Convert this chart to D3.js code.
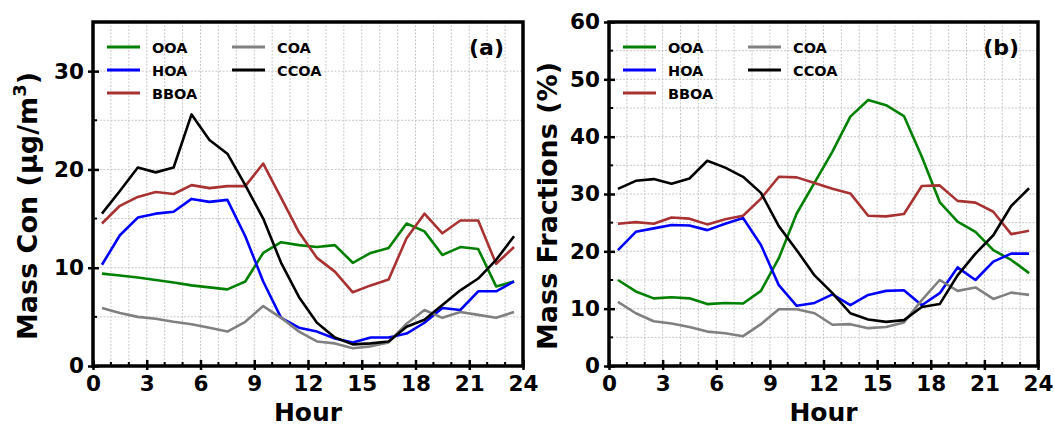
<!DOCTYPE html>
<html>
<head>
<meta charset="utf-8">
<script src="https://cdn.jsdelivr.net/npm/d3@7"></script>
<style>
  html, body { margin: 0; padding: 0; background: #fff; }
  svg { display: block; font-family: "DejaVu Sans", sans-serif; font-weight: bold; }
</style>
</head>
<body>
<svg id="chart" width="1054" height="426"></svg>
<script>
// Diurnal cycles of organic aerosol factors (hour of day, centred on each half hour)
const hours = d3.range(24).map(h => h + 0.5);
const seriesNames = ["OOA", "HOA", "BBOA", "COA", "CCOA"];
const seriesColors = ["#008000", "#0000ff", "#a83232", "#808080", "#000000"];

// (a) mass concentrations, µg/m³
const massOOA  = [9.4, 9.2, 9.0, 8.75, 8.5, 8.2, 8.0, 7.8, 8.6, 11.5, 12.6, 12.3, 12.1, 12.3, 10.5, 11.5, 12.0, 14.5, 13.7, 11.3, 12.1, 11.9, 8.1, 8.6];
const massHOA  = [10.3, 13.3, 15.1, 15.5, 15.7, 17.0, 16.7, 16.9, 13.2, 8.6, 4.9, 3.9, 3.5, 2.8, 2.4, 2.9, 2.9, 3.3, 4.4, 5.9, 5.7, 7.6, 7.6, 8.6];
const massBBOA = [14.5, 16.3, 17.2, 17.7, 17.5, 18.4, 18.1, 18.3, 18.3, 20.6, 17.1, 13.6, 11.0, 9.6, 7.5, 8.2, 8.8, 13.0, 15.5, 13.5, 14.8, 14.8, 10.4, 12.1];
const massCOA  = [5.9, 5.4, 5.0, 4.8, 4.5, 4.25, 3.9, 3.5, 4.5, 6.1, 4.9, 3.5, 2.5, 2.3, 1.8, 2.0, 2.4, 4.3, 5.7, 4.9, 5.5, 5.2, 4.9, 5.5];
const massCCOA = [15.5, 17.8, 20.2, 19.7, 20.2, 25.6, 23.0, 21.6, 18.4, 15.0, 10.5, 7.0, 4.4, 2.9, 2.2, 2.3, 2.5, 4.0, 4.7, 6.2, 7.7, 8.9, 10.8, 13.2];

// (b) mass fractions, %
const fracOOA  = [15.0, 13.0, 11.8, 12.0, 11.8, 10.8, 11.0, 10.9, 13.1, 18.8, 26.6, 32.0, 37.4, 43.5, 46.4, 45.5, 43.6, 36.5, 28.6, 25.2, 23.4, 20.2, 18.5, 16.2];
const fracHOA  = [20.2, 23.4, 24.0, 24.6, 24.5, 23.7, 24.8, 25.8, 21.1, 14.1, 10.5, 11.0, 12.5, 10.6, 12.4, 13.1, 13.2, 10.6, 12.7, 17.2, 15.0, 18.2, 19.6, 19.6];
const fracBBOA = [24.8, 25.1, 24.8, 25.9, 25.7, 24.7, 25.6, 26.2, 29.2, 33.0, 32.9, 31.9, 30.9, 30.1, 26.2, 26.1, 26.5, 31.4, 31.5, 28.8, 28.5, 26.9, 23.0, 23.6];
const fracCOA  = [11.2, 9.2, 7.8, 7.4, 6.8, 6.0, 5.7, 5.2, 7.3, 9.9, 9.9, 9.2, 7.2, 7.3, 6.6, 6.8, 7.6, 11.5, 15.0, 13.1, 13.7, 11.7, 12.8, 12.4];
const fracCCOA = [30.9, 32.3, 32.6, 31.8, 32.7, 35.8, 34.6, 33.0, 30.2, 24.4, 20.2, 15.8, 12.7, 9.2, 8.1, 7.7, 8.0, 10.3, 10.8, 15.8, 19.6, 22.8, 27.9, 31.0];

// Axis ticks
const hourTicks = d3.range(0, 25, 3);
const hourMinor = d3.range(0, 25, 1);
const massTicks = [0, 10, 20, 30];
const fracTicks = [0, 10, 20, 30, 40, 50, 60];

const svg = d3.select("#chart");

function drawPanel(opt) {
  const { left, right, top, bottom, yMax, yTicks, yMinorStep, series, tag, yLabelParts, yLabelX } = opt;
  const x = d3.scaleLinear().domain([0, 24]).range([left, right]);
  const y = d3.scaleLinear().domain([0, yMax]).range([bottom, top]);
  const g = svg.append("g");

  // light dotted grid: every hour and every minor y step
  const grid = g.append("g").attr("stroke", "#c8c8c8").attr("stroke-width", 1).attr("stroke-dasharray", "2,1.5");
  hourMinor.filter(h => h > 0 && h < 24).forEach(h => {
    grid.append("line").attr("x1", x(h)).attr("x2", x(h)).attr("y1", top).attr("y2", bottom);
  });
  d3.range(yMinorStep, yMax, yMinorStep).forEach(v => {
    grid.append("line").attr("x1", left).attr("x2", right).attr("y1", y(v)).attr("y2", y(v));
  });

  // data lines
  const line = d3.line().x((d, i) => x(hours[i])).y(d => y(d));
  series.forEach((vals, i) => {
    g.append("path").datum(vals).attr("d", line)
      .attr("fill", "none").attr("stroke", seriesColors[i]).attr("stroke-width", 2.6)
      .attr("stroke-linejoin", "round");
  });

  // axes with inward ticks
  const xAxis = d3.axisBottom(x).tickValues(hourTicks).tickSize(-6).tickPadding(10).tickFormat(d3.format("d"));
  const gx = g.append("g").attr("transform", `translate(0,${bottom})`).call(xAxis);
  const yAxis = d3.axisLeft(y).tickValues(yTicks).tickSize(-6).tickPadding(9).tickFormat(d3.format("d"));
  const gy = g.append("g").attr("transform", `translate(${left},0)`).call(yAxis);
  [gx, gy].forEach(a => {
    a.select(".domain").remove();
    a.selectAll(".tick line").attr("stroke", "#000").attr("stroke-width", 2.5);
    a.selectAll(".tick text").attr("fill", "#000").attr("font-size", 21.5)
      .attr("font-family", "DejaVu Sans").attr("font-weight", "bold");
  });
  // short outward stubs on major ticks
  gx.selectAll(".tick").append("line").attr("y1", 0).attr("y2", 4).attr("stroke", "#000").attr("stroke-width", 2.5);
  gy.selectAll(".tick").append("line").attr("x1", 0).attr("x2", -5).attr("stroke", "#000").attr("stroke-width", 2.5);
  gx.selectAll(".tick text").attr("dy", "0.71em");

  // minor ticks
  const minor = g.append("g").attr("stroke", "#000").attr("stroke-width", 2);
  hourMinor.filter(h => h % 3 !== 0).forEach(h => {
    minor.append("line").attr("x1", x(h)).attr("x2", x(h)).attr("y1", bottom).attr("y2", bottom - 4);
  });
  d3.range(yMinorStep, yMax, yMinorStep).filter(v => !yTicks.includes(v)).forEach(v => {
    minor.append("line").attr("x1", left).attr("x2", left + 4).attr("y1", y(v)).attr("y2", y(v));
  });

  // frame
  g.append("rect").attr("x", left).attr("y", top).attr("width", right - left).attr("height", bottom - top)
    .attr("fill", "none").attr("stroke", "#000").attr("stroke-width", 3.5);

  // legend, two columns
  const legendCols = [[0, 1, 2], [3, 4]];
  legendCols.forEach((col, ci) => {
    col.forEach((si, ri) => {
      const lx = left + 14 + ci * 125;
      const ly = top + 25 + ri * 23;
      g.append("line").attr("x1", lx).attr("x2", lx + 33).attr("y1", ly).attr("y2", ly)
        .attr("stroke", seriesColors[si]).attr("stroke-width", 3);
      g.append("text").attr("x", lx + 45).attr("y", ly + 5.5).attr("font-size", 14.5)
        .attr("fill", "#000").text(seriesNames[si]);
    });
  });

  // panel tag
  g.append("text").attr("x", right - 19).attr("y", top + 33).attr("text-anchor", "end")
    .attr("font-size", 22).attr("fill", "#000").text(tag);

  // axis titles
  g.append("text").attr("x", (left + right) / 2).attr("y", 421).attr("text-anchor", "middle")
    .attr("font-size", 25).attr("fill", "#000").text("Hour");
  const yl = g.append("text").attr("transform", `translate(${yLabelX},${(top + bottom) / 2 + 12}) rotate(-90)`)
    .attr("text-anchor", "middle").attr("font-size", 27).attr("fill", "#000");
  yLabelParts.forEach(p => {
    const t = yl.append("tspan").text(p.text);
    if (p.sup) t.attr("font-size", 18).attr("dy", -11);
    if (p.after) t.attr("dy", 11);
  });
}

drawPanel({
  left: 93, right: 523, top: 22, bottom: 366, yMax: 35, yTicks: massTicks, yMinorStep: 5,
  series: [massOOA, massHOA, massBBOA, massCOA, massCCOA], tag: "(a)",
  yLabelParts: [{ text: "Mass Con (μg/m" }, { text: "3", sup: true }, { text: ")", after: true }],
  yLabelX: 37
});

drawPanel({
  left: 609, right: 1038, top: 22, bottom: 366, yMax: 60, yTicks: fracTicks, yMinorStep: 5,
  series: [fracOOA, fracHOA, fracBBOA, fracCOA, fracCCOA], tag: "(b)",
  yLabelParts: [{ text: "Mass Fractions (%)" }],
  yLabelX: 557
});
</script>
</body>
</html>
